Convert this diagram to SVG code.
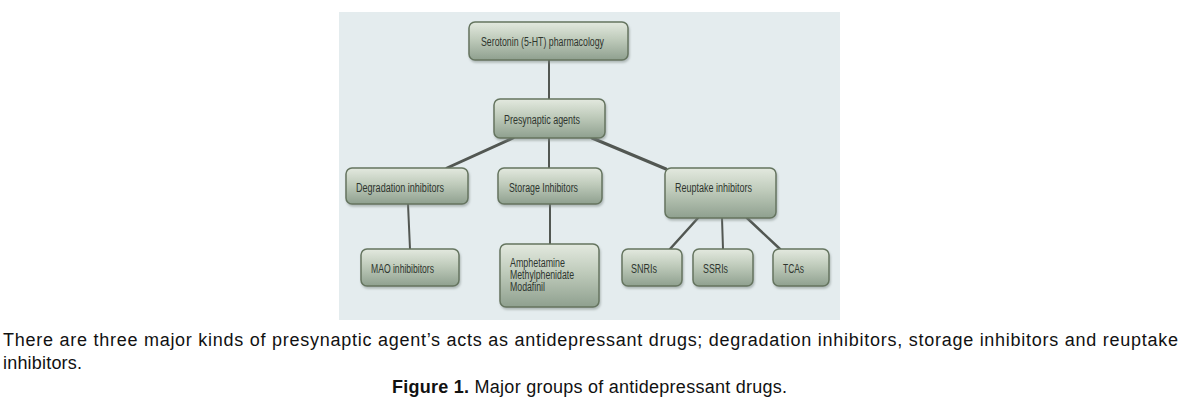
<svg xmlns="http://www.w3.org/2000/svg" width="1181" height="401" viewBox="0 0 1181 401">
<defs>
<linearGradient id="g" x1="0" y1="0" x2="0" y2="1">
<stop offset="0" stop-color="#e3e9df"/>
<stop offset="0.45" stop-color="#bfcbbb"/>
<stop offset="1" stop-color="#8fa08f"/>
</linearGradient>
<filter id="sh" x="-10%" y="-10%" width="130%" height="140%">
<feDropShadow dx="1" dy="2" stdDeviation="1.2" flood-color="#7a8580" flood-opacity="0.5"/>
</filter>
</defs>
<style>
.n{fill:url(#g);stroke:#65745f;stroke-width:1.5;filter:url(#sh)}
.t{font-family:"Liberation Sans",Arial,sans-serif;font-size:12px;fill:#2e352e}
.c{stroke:#525752;fill:none;stroke-linecap:round}
.cap{font-family:"Liberation Sans",Arial,sans-serif;font-size:18px;fill:#111}
</style>
<rect x="339" y="12" width="501" height="308" fill="#e4ecee"/>
<g id="connectors">
<line class="c" x1="549" y1="60" x2="549" y2="99" stroke-width="2"/>
<line class="c" x1="513" y1="138" x2="447" y2="168" stroke-width="3"/>
<line class="c" x1="549" y1="138" x2="549" y2="168" stroke-width="2"/>
<line class="c" x1="592" y1="138" x2="666" y2="169" stroke-width="3"/>
<line class="c" x1="408" y1="204" x2="410" y2="249" stroke-width="2"/>
<line class="c" x1="550" y1="204" x2="550" y2="244" stroke-width="2"/>
<line class="c" x1="698" y1="218" x2="670" y2="249" stroke-width="2.5"/>
<line class="c" x1="722" y1="218" x2="723" y2="249" stroke-width="2"/>
<line class="c" x1="747" y1="218" x2="780" y2="249" stroke-width="2.5"/>
</g>
<g id="n-serotonin">
<rect class="n" x="469" y="22" width="159" height="38" rx="6"/>
<text class="t" x="481" y="46" textLength="123" lengthAdjust="spacingAndGlyphs">Serotonin (5-HT) pharmacology</text>
</g>
<g id="n-presynaptic">
<rect class="n" x="494" y="99" width="111" height="39" rx="6"/>
<text class="t" x="504" y="124" textLength="76" lengthAdjust="spacingAndGlyphs">Presynaptic agents</text>
</g>
<g id="n-degradation">
<rect class="n" x="346" y="168" width="122" height="36" rx="6"/>
<text class="t" x="356" y="192" textLength="88" lengthAdjust="spacingAndGlyphs">Degradation inhibitors</text>
</g>
<g id="n-storage">
<rect class="n" x="498" y="168" width="104" height="36" rx="6"/>
<text class="t" x="509" y="192" textLength="69" lengthAdjust="spacingAndGlyphs">Storage Inhibitors</text>
</g>
<g id="n-reuptake">
<rect class="n" x="665" y="168" width="111" height="50" rx="6"/>
<text class="t" x="675" y="192" textLength="77" lengthAdjust="spacingAndGlyphs">Reuptake inhibitors</text>
</g>
<g id="n-mao">
<rect class="n" x="361" y="249" width="98" height="37" rx="6"/>
<text class="t" x="371" y="273" textLength="63" lengthAdjust="spacingAndGlyphs">MAO inhibibitors</text>
</g>
<g id="n-stimulants">
<rect class="n" x="500" y="244" width="99" height="63" rx="6"/>
<text class="t" x="510" y="267" textLength="55" lengthAdjust="spacingAndGlyphs">Amphetamine</text>
<text class="t" x="510" y="279" textLength="64" lengthAdjust="spacingAndGlyphs">Methylphenidate</text>
<text class="t" x="510" y="291" textLength="35" lengthAdjust="spacingAndGlyphs">Modafinil</text>
</g>
<g id="n-snri">
<rect class="n" x="622" y="249" width="60" height="37" rx="6"/>
<text class="t" x="631" y="273" textLength="26" lengthAdjust="spacingAndGlyphs">SNRIs</text>
</g>
<g id="n-ssri">
<rect class="n" x="693" y="249" width="60" height="37" rx="6"/>
<text class="t" x="703" y="273" textLength="25" lengthAdjust="spacingAndGlyphs">SSRIs</text>
</g>
<g id="n-tca">
<rect class="n" x="773" y="249" width="56" height="37" rx="6"/>
<text class="t" x="783" y="273" textLength="21" lengthAdjust="spacingAndGlyphs">TCAs</text>
</g>
<text class="cap" x="3" y="346" textLength="1175" lengthAdjust="spacing">There are three major kinds of presynaptic agent’s acts as antidepressant drugs; degradation inhibitors, storage inhibitors and reuptake</text>
<text class="cap" x="3" y="369" textLength="79" lengthAdjust="spacing">inhibitors.</text>
<text class="cap" x="392" y="393" textLength="395" lengthAdjust="spacing"><tspan font-weight="bold">Figure 1.</tspan> Major groups of antidepressant drugs.</text>
</svg>
